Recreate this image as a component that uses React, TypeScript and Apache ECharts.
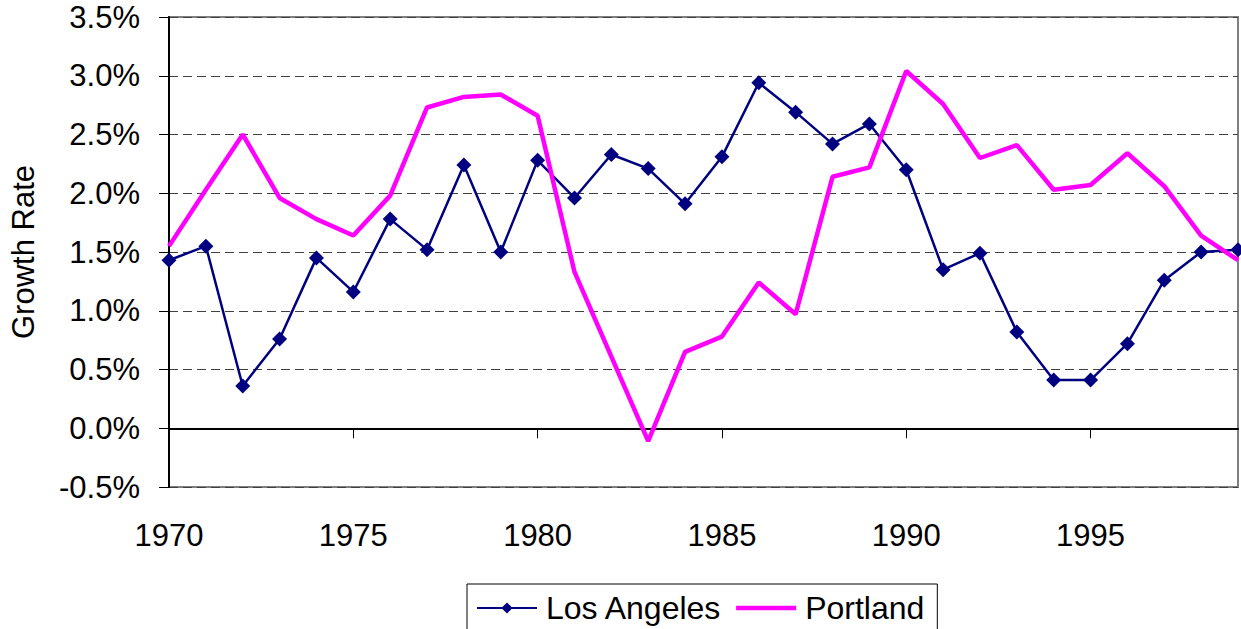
import React, { useEffect, useRef } from "react";
import * as echarts from "echarts";

const years: string[] = [
  "1970","1971","1972","1973","1974","1975","1976","1977","1978","1979",
  "1980","1981","1982","1983","1984","1985","1986","1987","1988","1989",
  "1990","1991","1992","1993","1994","1995","1996","1997","1998","1999",
];

const losAngeles: number[] = [
  1.43, 1.55, 0.36, 0.76, 1.45, 1.16, 1.78, 1.52, 2.24, 1.50,
  2.28, 1.96, 2.33, 2.21, 1.91, 2.31, 2.94, 2.69, 2.42, 2.59,
  2.20, 1.35, 1.49, 0.82, 0.41, 0.41, 0.72, 1.26, 1.50, 1.52,
];

const portland: number[] = [
  1.55, 2.03, 2.50, 1.96, 1.78, 1.64, 1.98, 2.73, 2.82, 2.84,
  2.66, 1.33, 0.61, -0.11, 0.65, 0.78, 1.24, 0.97, 2.14, 2.22,
  3.04, 2.76, 2.30, 2.41, 2.03, 2.07, 2.34, 2.06, 1.64, 1.43,
];

const FONT = "'Liberation Sans', Arial, sans-serif";

export default function App() {
  const ref = useRef<HTMLDivElement>(null);

  useEffect(() => {
    document.body.style.margin = "0";
    const chart = echarts.init(ref.current!, null, { renderer: "svg" });
    chart.setOption({
      animation: false,
      backgroundColor: "#ffffff",
      textStyle: { fontFamily: FONT },
      grid: {
        left: 165,
        top: 17,
        right: 3,
        bottom: 142,
        show: true,
        borderColor: "#808080",
        borderWidth: 2,
      },
      legend: {
        left: 467,
        top: 584,
        orient: "horizontal",
        padding: [8, 13, 8, 9],
        borderColor: "#000000",
        borderWidth: 1,
        itemWidth: 60,
        itemHeight: 14,
        itemGap: 14,
        textStyle: { fontSize: 32, color: "#000", fontFamily: FONT, padding: [0, 0, 0, 4] },
        data: [
          { name: "Los Angeles" },
          { name: "Portland", icon: "path://M0,0H60V4.5H0Z", itemStyle: { color: "#ff00ff" } },
        ],
      },
      xAxis: {
        type: "category",
        data: years,
        boundaryGap: false,
        axisLine: { show: true, lineStyle: { color: "#000", width: 2 } },
        axisTick: { show: true, interval: 4, length: 10, lineStyle: { color: "#000", width: 1 } },
        axisLabel: {
          interval: 4,
          fontSize: 31,
          color: "#000",
          fontFamily: FONT,
          margin: 33,
        },
        splitLine: { show: false },
      },
      yAxis: {
        type: "value",
        min: -0.5,
        max: 3.5,
        interval: 0.5,
        name: "Growth Rate",
        nameLocation: "middle",
        nameGap: 130,
        nameTextStyle: { fontSize: 31, color: "#000", fontFamily: FONT },
        axisLine: { show: true, lineStyle: { color: "#000", width: 2 } },
        axisTick: { show: true, length: 10, lineStyle: { color: "#000", width: 1 } },
        axisLabel: {
          fontSize: 31,
          color: "#000",
          fontFamily: FONT,
          margin: 29,
          formatter: (v: number) => v.toFixed(1) + "%",
        },
        splitLine: {
          show: true,
          lineStyle: { color: "#404040", width: 1, type: [9, 5] },
        },
      },
      series: [
        {
          name: "Los Angeles",
          type: "line",
          data: losAngeles,
          symbol: "diamond",
          symbolSize: 15,
          itemStyle: { color: "#000080" },
          lineStyle: { color: "#000080", width: 2.5 },
          z: 2,
        },
        {
          name: "Portland",
          type: "line",
          data: portland,
          symbol: "none",
          showSymbol: false,
          itemStyle: { color: "#ff00ff" },
          lineStyle: { color: "#ff00ff", width: 4.5 },
          z: 3,
        },
      ],
    });
    return () => chart.dispose();
  }, []);

  return <div ref={ref} style={{ width: 1241, height: 629 }} />;
}
